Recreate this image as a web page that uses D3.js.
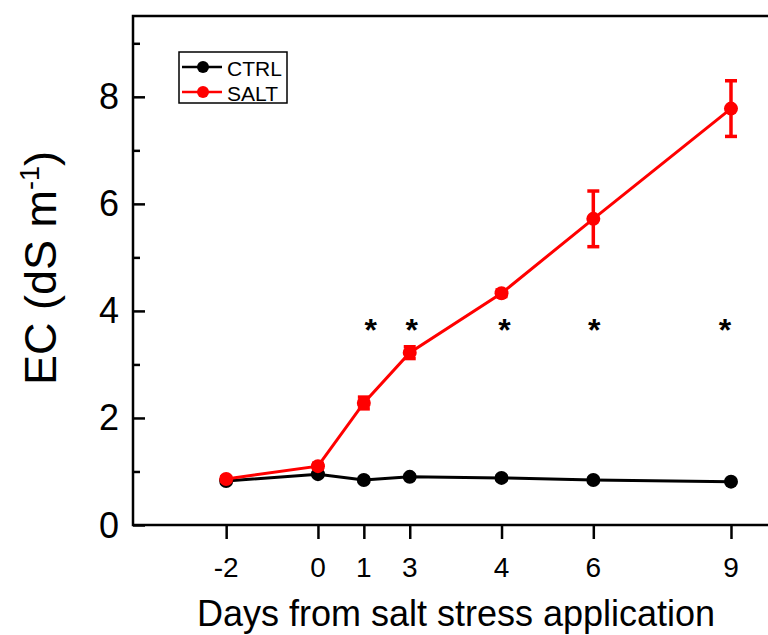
<!DOCTYPE html>
<html>
<head>
<meta charset="utf-8">
<script src="https://cdn.jsdelivr.net/npm/d3@7"></script>
<style>
  html, body { margin: 0; padding: 0; background: #fff; }
  svg { display: block; font-family: "Liberation Sans", Arial, sans-serif; }
</style>
</head>
<body>
<svg id="chart" width="768" height="635"></svg>
<script>
// Sampling days and their slot on the (non-uniform) time axis
const days = ["-2", "0", "1", "3", "4", "6", "9"];
const daySlot = [0, 2, 3, 4, 6, 8, 11];

// Electrical conductivity (dS m-1), mean and standard error
const ctrlEC = [0.82, 0.95, 0.84, 0.90, 0.88, 0.84, 0.81];
const ctrlErr = [0.03, 0.03, 0.03, 0.03, 0.03, 0.03, 0.03];
const saltEC = [0.86, 1.10, 2.28, 3.22, 4.33, 5.72, 7.78];
const saltErr = [0.04, 0.05, 0.11, 0.11, 0.06, 0.52, 0.52];

// Days with a significant difference between treatments
const signifDays = ["1", "3", "4", "6", "9"];
const signifLevel = 3.79;

const yTicks = [0, 2, 4, 6, 8];
const yMinorTicks = [1, 3, 5, 7, 9];

const svg = d3.select("#chart");
const plotLeft = 133, plotTop = 16, plotRight = 770, plotBottom = 525;

const x = d3.scaleLinear().domain([-2.03, 11.85]).range([plotLeft, plotRight]);
const y = d3.scaleLinear().domain([0, 9.51]).range([plotBottom, plotTop]);
const slotOf = d => daySlot[days.indexOf(d)];

// Frame
svg.append("rect")
  .attr("x", plotLeft).attr("y", plotTop)
  .attr("width", plotRight - plotLeft).attr("height", plotBottom - plotTop)
  .attr("fill", "none").attr("stroke", "#000").attr("stroke-width", 2.5);

// Y axis: major and minor ticks pointing inward
const yAxis = svg.append("g").attr("transform", `translate(${plotLeft},0)`);
yAxis.call(d3.axisRight(y).tickValues(yTicks).tickSize(12).tickFormat(""))
  .call(g => g.select(".domain").remove())
  .call(g => g.selectAll("line").attr("stroke-width", 2.5));
yAxis.append("g")
  .call(d3.axisRight(y).tickValues(yMinorTicks).tickSize(7).tickFormat(""))
  .call(g => g.select(".domain").remove())
  .call(g => g.selectAll("line").attr("stroke-width", 2.5));

svg.append("g").selectAll("text")
  .data(yTicks).join("text")
  .attr("x", plotLeft - 14).attr("y", d => y(d))
  .attr("text-anchor", "end").attr("dominant-baseline", "central")
  .attr("font-size", 36).attr("fill", "#000")
  .text(d => d);

// X axis: ticks pointing outward
svg.append("g").attr("transform", `translate(0,${plotBottom})`)
  .call(d3.axisBottom(x).tickValues(daySlot).tickSize(13).tickFormat(""))
  .call(g => g.select(".domain").remove())
  .call(g => g.selectAll("line").attr("stroke-width", 2.5).attr("transform", "translate(0,1)"));

svg.append("g").selectAll("text")
  .data(days).join("text")
  .attr("x", d => x(slotOf(d))).attr("y", 577)
  .attr("text-anchor", "middle")
  .attr("font-size", 28).attr("fill", "#000")
  .text(d => d);

// Axis titles
svg.append("text")
  .attr("x", 456).attr("y", 626)
  .attr("text-anchor", "middle")
  .attr("font-size", 36).attr("fill", "#000")
  .text("Days from salt stress application");

const yTitle = svg.append("text")
  .attr("transform", "translate(56,268) rotate(-90)")
  .attr("text-anchor", "middle")
  .attr("font-size", 45).attr("fill", "#000");
yTitle.append("tspan").text("EC (dS m");
yTitle.append("tspan").attr("dy", -17).attr("font-size", 27).text("-1");
yTitle.append("tspan").attr("dy", 17).text(")");

// Series
const series = [
  { name: "CTRL", color: "#000000", values: ctrlEC, errs: ctrlErr },
  { name: "SALT", color: "#ff0000", values: saltEC, errs: saltErr }
];

const line = d3.line().x((d, i) => x(daySlot[i])).y(d => y(d));

series.forEach(s => {
  const g = svg.append("g");
  g.append("path")
    .attr("d", line(s.values))
    .attr("fill", "none").attr("stroke", s.color).attr("stroke-width", 3);

  const eb = g.selectAll("g.err").data(s.values).join("g").attr("class", "err");
  eb.append("line")
    .attr("x1", (d, i) => x(daySlot[i])).attr("x2", (d, i) => x(daySlot[i]))
    .attr("y1", (d, i) => y(d - s.errs[i])).attr("y2", (d, i) => y(d + s.errs[i]))
    .attr("stroke", s.color).attr("stroke-width", 3.5);
  [-1, 1].forEach(sign => {
    eb.append("line")
      .attr("x1", (d, i) => x(daySlot[i]) - 6).attr("x2", (d, i) => x(daySlot[i]) + 6)
      .attr("y1", (d, i) => y(d + sign * s.errs[i])).attr("y2", (d, i) => y(d + sign * s.errs[i]))
      .attr("stroke", s.color).attr("stroke-width", 3.5);
  });

  g.selectAll("circle").data(s.values).join("circle")
    .attr("cx", (d, i) => x(daySlot[i])).attr("cy", d => y(d))
    .attr("r", 7).attr("fill", s.color);
});

// Significance markers, nudged sideways to clear the curve
const starNudge = [7, 2, 3, 1, -6];
svg.append("g").selectAll("text")
  .data(signifDays).join("text")
  .attr("x", (d, i) => x(slotOf(d)) + starNudge[i]).attr("y", y(signifLevel))
  .attr("dy", "0.58em")
  .attr("text-anchor", "middle")
  .attr("font-size", 32).attr("font-weight", "bold").attr("fill", "#000")
  .text("*");

// Legend
const legend = svg.append("g");
legend.append("rect")
  .attr("x", 179).attr("y", 52).attr("width", 108).attr("height", 51)
  .attr("fill", "#fff").attr("stroke", "#000").attr("stroke-width", 1.5);
series.forEach((s, i) => {
  const ly = 67 + i * 25;
  legend.append("line")
    .attr("x1", 182).attr("x2", 222).attr("y1", ly).attr("y2", ly)
    .attr("stroke", s.color).attr("stroke-width", 2.5);
  legend.append("circle")
    .attr("cx", 203).attr("cy", ly).attr("r", 6).attr("fill", s.color);
  legend.append("text")
    .attr("x", 227).attr("y", ly + 1)
    .attr("dominant-baseline", "central")
    .attr("font-size", 21).attr("fill", "#000")
    .text(s.name);
});
</script>
</body>
</html>
